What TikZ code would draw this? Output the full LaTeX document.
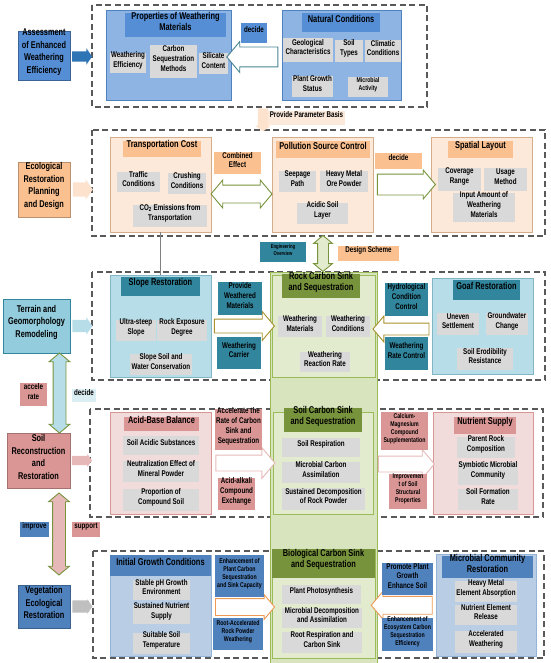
\documentclass[tikz,border=0pt]{standalone}
\usepackage{fontspec}
\setmainfont{Liberation Sans}[FakeStretch=0.75]
\usetikzlibrary{calc,fit,shapes.arrows}

\definecolor{framegray}{HTML}{595959}
\definecolor{itemgray}{HTML}{D9D9D9}
\definecolor{bluepanel}{HTML}{8DB4E2}
\definecolor{bluetitle}{HTML}{558ED5}
\definecolor{peachpanel}{HTML}{FDE9D9}
\definecolor{peachtitle}{HTML}{FAC090}
\definecolor{tealpanel}{HTML}{B7DEE8}
\definecolor{tealtitle}{HTML}{31859C}
\definecolor{tealside}{HTML}{93CDDD}
\definecolor{pinkpanel}{HTML}{F2DCDB}
\definecolor{pinktitle}{HTML}{D99694}
\definecolor{pinklight}{HTML}{E6B9B8}
\definecolor{vegpanel}{HTML}{B9CDE5}
\definecolor{vegtitle}{HTML}{4F81BD}
\definecolor{greencol}{HTML}{D7E4BD}
\definecolor{greenpanel}{HTML}{E2EBCD}
\definecolor{greentitle}{HTML}{77933C}
\definecolor{greenline}{HTML}{9BBB59}
\definecolor{goldline}{HTML}{A8912E}
\definecolor{orangeline}{HTML}{EE9A55}
\definecolor{arrowblue}{HTML}{2E75B6}

\newcommand\sidefont{\fontsize{9.8}{12.5}\selectfont\bfseries}
\newcommand\ttlfont{\fontsize{9.9}{11}\selectfont\bfseries}
\newcommand\itmfont{\fontsize{8.3}{9.9}\selectfont\bfseries}
\newcommand\smlfont{\fontsize{6.9}{7.9}\selectfont\bfseries}
\newcommand\tnyfont{\fontsize{5.6}{7.2}\selectfont\bfseries}

\tikzset{
  frame/.style={draw=framegray, line width=1.1pt, dash pattern=on 6pt off 3.5pt},
  panel/.style 2 args={fill=#1, draw=#2, line width=0.6pt, inner sep=0pt},
  title/.style={fill=#1, inner sep=0pt, align=center, font=\ttlfont},
  item/.style={fill=itemgray, inner sep=0pt, align=center, font=\itmfont},
  lbl/.style={fill=#1, inner sep=0pt, align=center, font=\itmfont},
  side/.style 2 args={fill=#1, draw=#2, line width=0.6pt, inner sep=0pt, align=center, font=\sidefont},
  hollow/.style={single arrow, draw=#1, fill=white, line width=0.9pt, inner sep=0pt, single arrow tip angle=100},
  dhollow/.style 2 args={double arrow, fill=#1, draw=#2, line width=0.9pt, inner sep=0pt, double arrow tip angle=100},
  solid/.style={single arrow, fill=#1, inner sep=0pt, single arrow tip angle=110},
}

\begin{document}
\begin{tikzpicture}[x=1pt, y=-1pt]
  \useasboundingbox (0,0) rectangle (550,663);

  %%%%% FRAMES %%%%%
  \draw[frame] (92,5) rectangle (427,107);
  \draw[frame] (92,130) rectangle (545,236);
  \draw[frame] (92,272) rectangle (545,380);
  \draw[frame] (90,409) rectangle (543,517);
  \draw[frame] (93,551) rectangle (544,658);

  % carbon sink column
  \draw[fill=greencol, draw=greenline, line width=0.6pt] (270,272) rectangle (377,663);

  %%%%% ROW 1 %%%%%
  \node[side={bluetitle}{bluetitle!70!black}, fit={(18,31) (70,80)}] (aewe) {Assessment\\of Enhanced\\Weathering\\Efficiency};
  \node[solid=arrowblue, minimum height=20pt, minimum width=16pt, inner ysep=5pt, single arrow head extend=3pt] (s1) at ($(aewe.east)+(10,1)$) {};

  \node[panel={bluepanel}{vegtitle}, fit={(106,10) (231,100)}] (pwm) {};
  \node[title=bluetitle, fit={(125,13) (226,37)}] (pwmt) {Properties of Weathering\\Materials};
  \node[item, fit={(110,53) (146,73)}] (weff) {Weathering\\Efficiency};
  \node[item, fit={(150,45) (197,78)}] (csm) {Carbon\\Sequestration\\Methods};
  \node[item, fit={(199,53) (228,74)}] (sic) {Silicate\\Content};

  \node[panel={bluepanel}{vegtitle}, fit={(282,10) (401,100)}] (pnc) {};
  \node[title=bluetitle, fit={(302,13) (380,32)}] (pnct) {Natural Conditions};
  \node[item, fit={(283,38) (333,62)}] (geo) {Geological\\Characteristics};
  \node[item, fit={(335,40) (363,62)}] (soty) {Soil\\Types};
  \node[item, fit={(365,40) (401,62)}] (clim) {Climatic\\Conditions};
  \node[item, fit={(292,76) (333,97)}] (pgs) {Plant Growth\\Status};
  \node[item, font=\smlfont, fit={(348,77) (388,97)}] (mact) {Microbial\\Activity};

  \node[hollow=tealtitle!70!gray, minimum height=51pt, minimum width=30pt, inner ysep=9.5pt, single arrow head extend=5.5pt, rotate=180] (a1) at ($(pwm.east)!.5!(pnc.west)+(0,2)$) {};
  \node[lbl=bluetitle, fit={(241,23) (267,43)}] (dec1) {decide};

  % parameter basis
  \node[solid=peachtitle!45, minimum height=23pt, minimum width=16pt, inner ysep=5pt, single arrow head extend=3pt, rotate=-90] (s12) at (263,118) {};
  \node[lbl=peachpanel, fit={(268,111) (345,125)}] (ppb) {Provide Parameter Basis};

  %%%%% ROW 2 %%%%%
  \node[side={peachtitle}{peachtitle!75!black}, fit={(18,162) (70,217)}] (erpd) {Ecological\\Restoration\\Planning\\and Design};
  \node[solid=peachtitle!45, minimum height=20pt, minimum width=20pt, inner ysep=7pt, single arrow head extend=3pt] (s2) at ($(erpd.east)+(10,0)$) {};

  \node[panel={peachpanel}{peachtitle!70!gray}, fit={(110,137) (211,232)}] (ptc) {};
  \node[title=peachtitle, fit={(123,141) (201,157)}] (ptct) {Transportation Cost};
  \node[item, fit={(117,172) (160,192)}] (trc) {Traffic\\Conditions};
  \node[item, fit={(168,173) (206,194)}] (crc) {Crushing\\Conditions};
  \node[item, fit={(133,205) (207,227)}] (coe) {CO\textsubscript{2} Emissions from\\Transportation};

  \node[panel={peachpanel}{peachtitle!70!gray}, fit={(272,137) (373,232)}] (ppc) {};
  \node[title=peachtitle, fit={(276,141) (370,158)}] (ppct) {Pollution Source Control};
  \node[item, fit={(279,171) (316,192)}] (sep) {Seepage\\Path};
  \node[item, fit={(320,171) (368,192)}] (hmo) {Heavy Metal\\Ore Powder};
  \node[item, fit={(297,203) (348,224)}] (asl) {Acidic Soil\\Layer};

  \node[panel={peachpanel}{peachtitle!70!gray}, fit={(431,137) (532,232)}] (psl) {};
  \node[title=peachtitle, fit={(448,141) (513,158)}] (pslt) {Spatial Layout};
  \node[item, fit={(438,168) (481,191)}] (cov) {Coverage\\Range};
  \node[item, fit={(484,168) (527,191)}] (usm) {Usage\\Method};
  \node[item, fit={(453,193) (515,222)}] (iam) {Input Amount of\\Weathering\\Materials};

  \node[dhollow={white}{greentitle}, minimum height=61pt, minimum width=27pt, inner ysep=8.5pt, double arrow head extend=5pt] (a2) at ($(ptc.east)!.5!(ppc.west)+(0,9.5)$) {};
  \node[lbl=peachtitle, fit={(214,152) (261,174)}] (cef) {Combined\\Effect};

  \node[hollow=greentitle, minimum height=58pt, minimum width=28pt, inner ysep=10pt, single arrow head extend=4pt] (a3) at ($(ppc.east)!.5!(psl.west)$) {};
  \node[lbl=peachtitle, fit={(375,153) (422,169)}] (dec2) {decide};

  %%%%% ROW 3 %%%%%
  \node[side={tealside}{tealtitle}, fit={(3,299) (70,353)}] (tgr) {Terrain and\\Geomorphology\\Remodeling};
  \node[solid=tealpanel, minimum height=20pt, minimum width=17pt, inner ysep=6pt, single arrow head extend=2.5pt] (s3) at ($(tgr.east)+(10,0)$) {};

  \node[panel={tealpanel}{tealtitle!60}, fit={(110,275) (211,377)}] (psr) {};
  \node[title=tealtitle, fit={(121,277) (200,296)}] (psrt) {Slope Restoration};
  \node[item, fit={(116,320) (156,341)}] (uss) {Ultra-steep\\Slope};
  \node[item, fit={(157,320) (207,341)}] (red) {Rock Exposure\\Degree};
  \node[item, fit={(130,354) (192,375)}] (ssw) {Slope Soil and\\Water Conservation};

  \draw[gray, line width=0.8pt] (ptc.south) -- (psr.north);

  \node[panel={greenpanel}{greenline}, fit={(272,275) (375,377)}] (prc) {};
  \node[title=greentitle, fit={(282,274) (360,298)}] (prct) {Rock Carbon Sink\\and Sequestration};
  \node[item, fit={(278,316) (322,337)}] (wmat) {Weathering\\Materials};
  \node[item, fit={(326,316) (370,337)}] (wcon) {Weathering\\Conditions};
  \node[item, fit={(300,352) (350,372)}] (wrr) {Weathering\\Reaction Rate};

  \node[panel={tealpanel}{tealtitle!60}, fit={(432,278) (533,374)}] (pgr) {};
  \node[title=tealtitle, fit={(453,280) (520,300)}] (pgrt) {Goaf Restoration};
  \node[item, fit={(437,313) (479,335)}] (ues) {Uneven\\Settlement};
  \node[item, fit={(486,313) (528,335)}] (gwc) {Groundwater\\Change};
  \node[item, fit={(457,348) (513,370)}] (ser) {Soil Erodibility\\Resistance};

  % between row 2 and row 3
  \node[dhollow={greenpanel}{greentitle}, minimum height=36pt, minimum width=18pt, inner ysep=5pt, double arrow head extend=4pt, rotate=90] (a5) at ($(ppc.south)!.5!(prc.north)$) {};
  \node[lbl=tealtitle, font=\tnyfont, fit={(260,242) (306,262)}] (eov) {Engineering\\Overview};
  \node[lbl=peachtitle, fit={(338,246) (399,261)}] (dsc) {Design Scheme};

  \node[hollow=goldline, minimum height=60pt, minimum width=28pt, inner ysep=6.5pt, single arrow head extend=7.5pt] (a4) at ($(psr.east)!.5!(prc.west)$) {};
  \node[lbl=tealtitle, fit={(218,282) (262,315)}] (pwmat) {Provide\\Weathered\\Materials};
  \node[lbl=tealtitle, fit={(217,337) (261,369)}] (wca) {Weathering\\Carrier};

  \node[hollow=goldline, minimum height=56pt, minimum width=25pt, inner ysep=5.5pt, single arrow head extend=7pt, rotate=180] (a6) at ($(prc.east)!.5!(pgr.west)+(0,3)$) {};
  \node[lbl=tealtitle, fit={(385,283) (428,316)}] (hcc) {Hydrological\\Condition\\Control};
  \node[lbl=tealtitle, fit={(385,337) (428,370)}] (wrc) {Weathering\\Rate Control};

  %%%%% ROW 3 -> ROW 4 (left) %%%%%
  \node[side={pinktitle}{pinktitle!75!black}, fit={(7,433) (70,488)}] (srr) {Soil\\Reconstruction\\and\\Restoration};
  \node[dhollow={tealpanel}{greentitle}, minimum height=80pt, minimum width=20pt, inner ysep=6pt, double arrow head extend=4pt, rotate=90] (a7) at ($(tgr.south)!.5!(srr.north)+(22,0)$) {};
  \node[lbl=pinktitle, fit={(20,383) (47,406)}] (acr) {accele\\rate};
  \node[lbl=tealpanel!50, fit={(72,389) (96,402)}] (dec3) {decide};

  %%%%% ROW 4 %%%%%
  \node[solid=pinklight, minimum height=20pt, minimum width=13pt, inner ysep=4.5pt, single arrow head extend=2pt] (s4) at ($(srr.east)+(10,0)$) {};

  \node[panel={pinkpanel}{pinktitle}, fit={(110,412) (211,514)}] (pab) {};
  \node[title=pinktitle, fit={(124,417) (199,431)}] (pabt) {Acid-Base Balance};
  \node[item, fit={(123,436) (199,455)}] (sas) {Soil Acidic Substances};
  \node[item, fit={(123,461) (199,482)}] (nem) {Neutralization Effect of\\Mineral Powder};
  \node[item, fit={(123,489) (199,511)}] (pcs) {Proportion of\\Compound Soil};

  \node[panel={greenpanel}{greenline}, fit={(273,412) (373,514)}] (psc) {};
  \node[title=greentitle, fit={(284,408) (362,432)}] (psct) {Soil Carbon Sink\\and Sequestration};
  \node[item, fit={(282,438) (360,457)}] (sre) {Soil Respiration};
  \node[item, fit={(282,462) (360,483)}] (mca) {Microbial Carbon\\Assimilation};
  \node[item, fit={(282,488) (365,510)}] (sdr) {Sustained Decomposition\\of Rock Powder};

  \node[panel={pinkpanel}{pinktitle}, fit={(433,412) (533,514)}] (pns) {};
  \node[title=pinktitle, fit={(454,417) (516,434)}] (pnst) {Nutrient Supply};
  \node[item, fit={(457,437) (515,458)}] (prc2) {Parent Rock\\Composition};
  \node[item, fit={(458,462) (518,485)}] (smc) {Symbiotic Microbial\\Community};
  \node[item, fit={(458,489) (518,510)}] (sfr) {Soil Formation\\Rate};

  \node[hollow=pinklight, minimum height=59pt, minimum width=30pt, inner ysep=7.5pt, single arrow head extend=7.5pt] (a8) at ($(pab.east)!.5!(psc.west)$) {};
  \node[lbl=pinktitle, fit={(215,409) (262,450)}] (arc) {Accelerate the\\Rate of Carbon\\Sink and\\Sequestration};
  \node[lbl=pinktitle, fit={(218,478) (255,510)}] (ace) {Acid-alkali\\Compound\\Exchange};

  \node[hollow=pinklight, minimum height=56pt, minimum width=28pt, inner ysep=7.5pt, single arrow head extend=6.5pt] (a9) at ($(psc.east)!.5!(pns.west)+(0,1)$) {};
  \node[lbl=pinktitle, font=\smlfont, fit={(381,412) (428,450)}] (cmc) {Calcium-\\Magnesium\\Compound\\Supplementation};
  \node[lbl=pinktitle, font=\smlfont, fit={(389,474) (427,509)}] (iss) {Improvemen\\t of Soil\\Structural\\Properties};

  %%%%% ROW 4 -> ROW 5 (left) %%%%%
  \node[side={vegtitle}{vegtitle!75!black}, fit={(18,585) (70,628)}] (ver) {Vegetation\\Ecological\\Restoration};
  \node[dhollow={pinklight}{greentitle}, minimum height=82pt, minimum width=20pt, inner ysep=6pt, double arrow head extend=4pt, rotate=90] (a10) at (59,534) {};
  \node[lbl=vegtitle, fit={(20,522) (49,537)}] (imp) {improve};
  \node[lbl=pinktitle, fit={(72,522) (100,537)}] (sup) {support};

  %%%%% ROW 5 %%%%%
  \node[solid=black!25, minimum height=20pt, minimum width=14pt, inner ysep=6pt, single arrow head extend=1pt] (s5) at ($(ver.east)+(10,0)$) {};

  \node[panel={vegpanel}{vegtitle!60}, fit={(110,555) (211,656)}] (pig) {};
  \node[title=vegtitle, fit={(110,555) (211,576)}] (pigt) {Initial Growth Conditions};
  \node[item, fit={(133,580) (190,600)}] (sph) {Stable pH Growth\\Environment};
  \node[item, fit={(133,605) (190,624)}] (sns) {Sustained Nutrient\\Supply};
  \node[item, fit={(133,633) (190,654)}] (sst) {Suitable Soil\\Temperature};

  \node[panel={greenpanel}{greenline}, fit={(272,549) (375,658)}] (pbc) {};
  \node[title=greentitle, fit={(272,549) (375,578)}] (pbct) {Biological Carbon Sink\\and Sequestration};
  \node[item, fit={(282,585) (361,604)}] (pph) {Plant Photosynthesis};
  \node[item, fit={(282,608) (362,628)}] (mda) {Microbial Decomposition\\and Assimilation};
  \node[item, fit={(282,632) (362,653)}] (rrc) {Root Respiration and\\Carbon Sink};

  \node[panel={vegpanel}{vegtitle!60}, fit={(436,554) (536,656)}] (pmc) {};
  \node[title=vegtitle, fit={(442,556) (533,578)}] (pmct) {Microbial Community\\Restoration};
  \node[item, fit={(455,581) (517,602)}] (hma) {Heavy Metal\\Element Absorption};
  \node[item, fit={(455,605) (517,625)}] (ner) {Nutrient Element\\Release};
  \node[item, fit={(455,631) (517,653)}] (acw) {Accelerated\\Weathering};

  \node[hollow=orangeline, minimum height=59pt, minimum width=24pt, inner ysep=8pt, single arrow head extend=4pt] (a11) at ($(pig.east)!.5!(pbc.west)+(0,2.5)$) {};
  \node[lbl=vegtitle, font=\smlfont, fit={(215,555) (264,597)}] (epc) {Enhancement of\\Plant Carbon\\Sequestration\\and Sink Capacity};
  \node[lbl=vegtitle, font=\smlfont, fit={(213,618) (263,650)}] (rar) {Root-Accelerated\\Rock Powder\\Weathering};

  \node[hollow=orangeline, minimum height=61pt, minimum width=27pt, inner ysep=8.5pt, single arrow head extend=5pt, rotate=180] (a12) at ($(pbc.east)!.5!(pmc.west)+(0,1)$) {};
  \node[lbl=vegtitle, fit={(382,563) (433,595)}] (pgs2) {Promote Plant\\Growth\\Enhance Soil};
  \node[lbl=vegtitle, font=\smlfont, fit={(382,618) (433,651)}] (ece) {Enhancement of\\Ecosystem Carbon\\Sequestration\\Efficiency};
\end{tikzpicture}
\end{document}
